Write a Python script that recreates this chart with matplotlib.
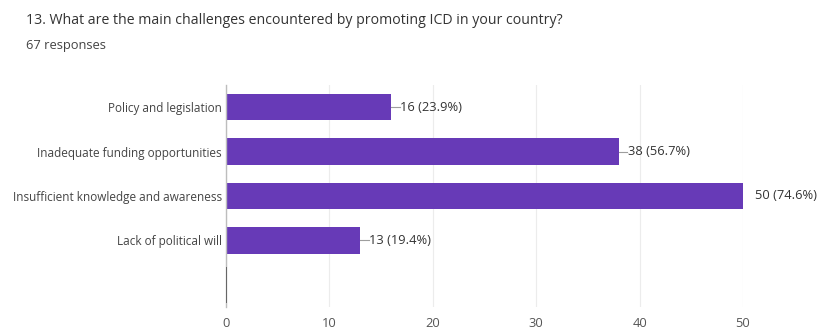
import matplotlib
matplotlib.use("Agg")
import matplotlib.pyplot as plt

# survey answers, top to bottom
categories = ["Policy and legislation",
              "Inadequate funding opportunities",
              "Insufficient knowledge and awareness",
              "Lack of political will",
              ""]
counts = [16, 38, 50, 13, 0]
percents = ["23.9%", "56.7%", "74.6%", "19.4%", ""]
total_responses = 67
x_ticks = [0, 10, 20, 30, 40, 50]

purple = "#673ab7"
plt.rcParams["font.family"] = ["Open Sans", "DejaVu Sans"]

fig = plt.figure(figsize=(8.21, 3.29), dpi=100)
ax = fig.add_axes([0.2753, 0.067, 0.905 - 0.2753, 0.742 - 0.067])

ypos = list(range(len(categories)))
for y, c in zip(ypos, counts):
    if c > 0:
        ax.barh(y, c, height=0.6, color=purple, zorder=3)
    else:
        # empty row still gets a hairline at zero
        ax.barh(y, c, height=0.8, color="none", edgecolor="#555555",
                linewidth=1.2, zorder=5)

# value labels with short leader lines
for y, c, p in zip(ypos, counts, percents):
    if not p:
        continue
    if c >= max(counts):
        ax.text(c + 1.2, y, f"{c} ({p})", va="center", ha="left",
                fontsize=9.3, color="#333333", clip_on=False)
    else:
        ax.plot([c, c + 0.8], [y, y], color="#9e9e9e", lw=0.8, zorder=2)
        ax.text(c + 0.85, y, f"{c} ({p})", va="center", ha="left",
                fontsize=9.3, color="#333333")

ax.set_xlim(0, 50)
ax.set_ylim(len(categories) - 0.5, -0.5)
ax.set_yticks(ypos)
ax.set_yticklabels(categories, fontsize=8.5, color="#444444")
ax.set_xticks(x_ticks)
ax.set_xticklabels([str(t) for t in x_ticks], fontsize=9.3, color="#555555")
ax.tick_params(axis="both", length=0, pad=3)
ax.tick_params(axis="x", pad=7)
ax.grid(axis="x", color="#ececec", lw=0.8, zorder=0)
for s in ["top", "right", "bottom"]:
    ax.spines[s].set_visible(False)
ax.spines["left"].set_color("#bdbdbd")
ax.spines["left"].set_linewidth(1.0)
ax.spines["left"].set_zorder(4)

fig.text(26 / 821, 1 - 21 / 329,
         "13. What are the main challenges encountered by promoting ICD in your country?",
         fontsize=10.2, color="#333333", va="center", ha="left")
fig.text(26 / 821, 1 - 46 / 329, f"{total_responses} responses",
         fontsize=9.3, color="#444444", va="center", ha="left")

fig.savefig("out.png", dpi=100)
